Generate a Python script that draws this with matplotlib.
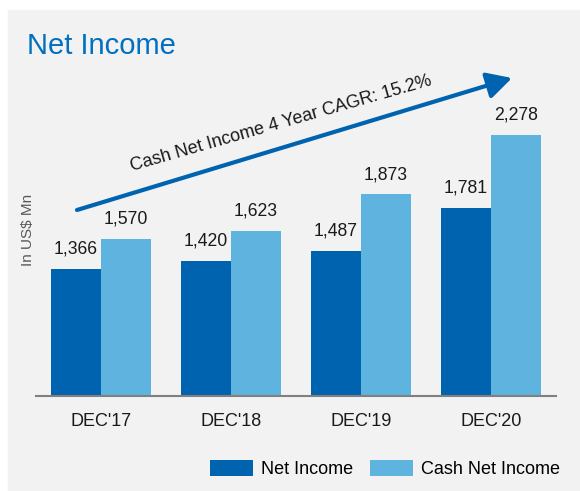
import numpy as np
import matplotlib
matplotlib.use("Agg")
import matplotlib.pyplot as plt
from matplotlib.patches import Rectangle

plt.rcParams['font.family'] = ['Liberation Sans', 'DejaVu Sans']

periods = ["DEC'17", "DEC'18", "DEC'19", "DEC'20"]
net_income = [1366, 1420, 1487, 1781]
cash_net_income = [1570, 1623, 1873, 2278]

dark = "#0063af"
light = "#5eb4de"

W, H = 580, 491
fig = plt.figure(figsize=(W / 100, H / 100), dpi=100)

# grey panel behind everything
fig.patches.append(Rectangle((8 / W, -0.01), 1.01 - 8 / W, 1.01 - 10 / H,
                             transform=fig.transFigure, color="#f2f2f2", zorder=-5))

ax = fig.add_axes([36 / W, 95 / H, 520 / W, 336 / H])
ax.set_facecolor("none")

x = np.arange(len(periods))
w = 0.385
b1 = ax.bar(x - w / 2, net_income, w, color=dark, label="Net Income")
b2 = ax.bar(x + w / 2, cash_net_income, w, color=light, label="Cash Net Income")

for bars, vals in [(b1, net_income), (b2, cash_net_income)]:
    for r, v in zip(bars, vals):
        ax.annotate(f"{v:,}", (r.get_x() + r.get_width() / 2, v),
                    xytext=(0, 8), textcoords="offset points",
                    ha="center", va="bottom", fontsize=12.7, color="#1a1a1a")

ax.set_xlim(-0.5, 3.5)
ax.set_ylim(500, 2787)
ax.set_yticks([])
ax.set_xticks(x)
ax.set_xticklabels(periods, fontsize=13, color="#1a1a1a")
ax.tick_params(axis="x", length=0, pad=12)
for s in ["top", "right", "left"]:
    ax.spines[s].set_visible(False)
ax.spines["bottom"].set_color("#808080")
ax.spines["bottom"].set_linewidth(1.5)

# title and axis note
fig.text(27 / W, 1 - 54 / H, "Net Income", fontsize=21, color="#0070c0",
         ha="left", va="baseline")
fig.text(28 / W, 1 - 230 / H, "In US$ Mn", fontsize=11, color="#595959",
         rotation=90, ha="center", va="center")

# CAGR arrow
ax.annotate("", xy=(512 / W, 1 - 78 / H), xytext=(77 / W, 1 - 210 / H),
            xycoords="figure fraction", textcoords="figure fraction",
            arrowprops=dict(arrowstyle="-|>,head_length=0.75,head_width=0.4",
                            mutation_scale=20, lw=3, color=dark,
                            shrinkA=0, shrinkB=0), annotation_clip=False)
fig.text(281 / W, 1 - 124 / H, "Cash Net Income 4 Year CAGR: 15.2%",
         fontsize=13, rotation=16, rotation_mode="anchor",
         ha="center", va="center", color="#1a1a1a")

fig.legend(handles=[b1, b2], loc="center", bbox_to_anchor=(385 / W, 1 - 469 / H),
           ncol=2, frameon=False, fontsize=13, handlelength=2.4,
           handleheight=1.0, handletextpad=0.44, columnspacing=0.94)

plt.savefig("out.png", dpi=100)
